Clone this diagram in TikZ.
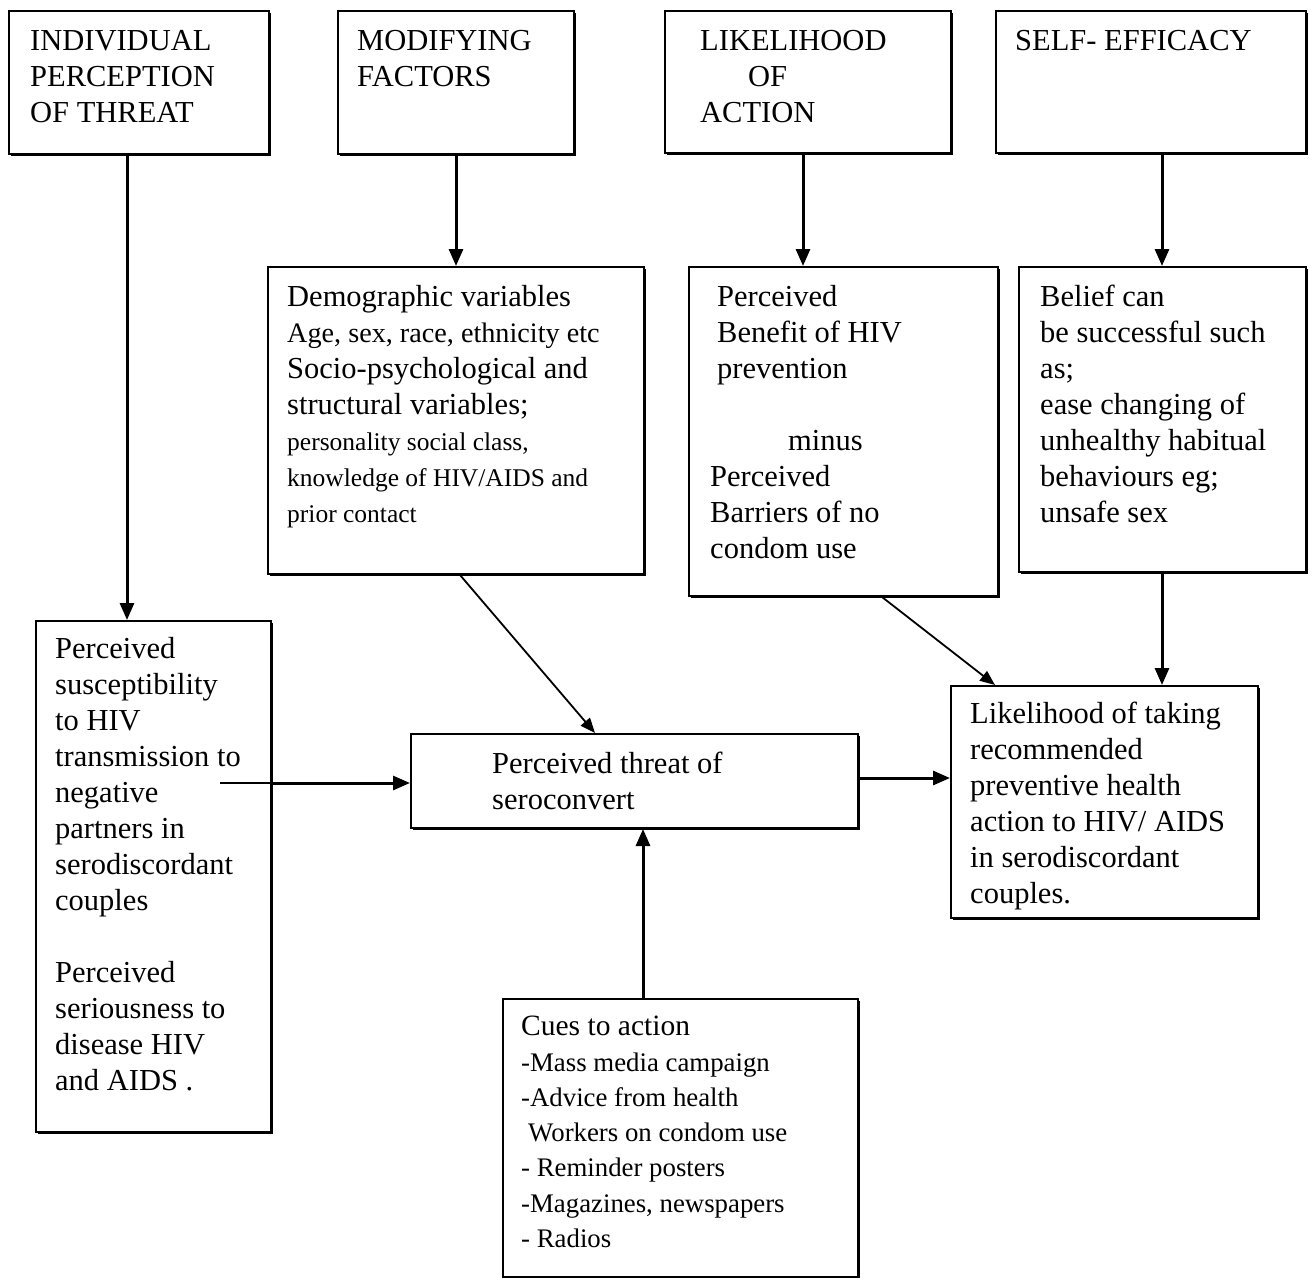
\documentclass[tikz,border=0pt]{standalone}
\usepackage{fontspec}
\setmainfont{Liberation Serif}
\usetikzlibrary{arrows.meta,shadows}
\newcommand{\fbig}{\fontsize{30.5}{36}\selectfont}
\newcommand{\fmid}{\fontsize{28.2}{36}\selectfont}
\newcommand{\fsml}{\fontsize{25.5}{36}\selectfont}
\newcommand{\fcue}{\fontsize{26.8}{36}\selectfont}
\begin{document}
\begin{tikzpicture}[x=1pt,y=-1pt,
  bx/.style={draw,line width=2pt,fill=white,inner sep=0pt,anchor=north west,
    drop shadow={shadow xshift=1.8pt,shadow yshift=-1.8pt,fill=black,opacity=1}},
  txt/.style={inner sep=0pt,anchor=north west,align=left,font=\fbig},
  arr/.style={line width=3pt,-{Triangle[length=17pt,width=14pt]}},
  darr/.style={line width=1.8pt,-{Triangle[length=15pt,width=12pt]}}
]
\useasboundingbox (0,0) rectangle (1313,1277);
% top row boxes
\node[bx,minimum width=260,minimum height=143] (b1) at (8,10) {};
\node[bx,minimum width=236,minimum height=143] (b2) at (337,10) {};
\node[bx,minimum width=286,minimum height=142] (b3) at (664,10) {};
\node[bx,minimum width=310,minimum height=142] (b4) at (995,10) {};
\node[txt] (t1) at (30,30) {INDIVIDUAL\\PERCEPTION\\OF THREAT};
\node[txt] (t2) at (357,30) {MODIFYING\\FACTORS};
\node[txt] (t3) at (700,30) {LIKELIHOOD\\\hspace*{48pt}OF\\ACTION};
\node[txt] (t4) at (1015,30) {SELF- EFFICACY};
% second row
\node[bx,minimum width=376,minimum height=307] (dem) at (267,266) {};
\node[bx,minimum width=309,minimum height=329] (ben) at (688,266) {};
\node[bx,minimum width=287,minimum height=305] (bel) at (1018,266) {};
\node[txt] (tdem) at (287,285) {Demographic variables\\
  \fmid Age, sex, race, ethnicity etc\\
  Socio-psychological and\\
  structural variables;\\
  \fsml personality social class,\\
  \fsml knowledge of HIV/AIDS and\\
  \fsml prior contact};
\node[txt] (tben) at (717,285) {Perceived\\Benefit of HIV\\prevention\\[36pt]%
  \hspace*{71pt}minus\\\hspace*{-7pt}Perceived\\\hspace*{-7pt}Barriers of no\\\hspace*{-7pt}condom use};
\node[txt] (tbel) at (1040,285) {Belief can\\be successful such\\as;\\ease changing of\\unhealthy habitual\\behaviours eg;\\unsafe sex};
% third row
\node[bx,minimum width=235,minimum height=511] (sus) at (35,620) {};
\node[bx,minimum width=447,minimum height=94] (thr) at (410,733) {};
\node[bx,minimum width=307,minimum height=232] (lik) at (950,685) {};
\node[txt] (tsus) at (55,637) {Perceived\\susceptibility\\to HIV\\transmission to\\negative\\partners in\\serodiscordant\\couples\\[36pt]Perceived\\seriousness to\\disease HIV\\and AIDS .};
\node[txt] (tthr) at (492,752) {Perceived threat of\\seroconvert};
\node[txt] (tlik) at (970,702) {Likelihood of taking\\recommended\\preventive health\\action to HIV/ AIDS\\in serodiscordant\\couples.};
% cues
\node[bx,minimum width=355,minimum height=278] (cue) at (502,998) {};
\node[txt,font=\fontsize{29.5}{35.3}\selectfont] (tcue) at (521,1016) {Cues to action\\
  \fcue -Mass media campaign\\
  \fcue -Advice from health\\
  \fcue \hspace*{7pt}Workers on condom use\\
  \fcue - Reminder posters\\
  \fcue -Magazines, newspapers\\
  \fcue - Radios};
% arrows
\draw[arr] (b1.south -| 127,0) -- (sus.north -| 127,0);
\draw[arr] (b2.south -| 456,0) -- (dem.north -| 456,0);
\draw[arr] (b3.south -| 803,0) -- (ben.north -| 803,0);
\draw[arr] (b4.south -| 1162,0) -- (bel.north -| 1162,0);
\draw[darr] (dem.south -| 460,0) -- (thr.north -| 595,0);
\draw[darr] (ben.south -| 882,0) -- (lik.north -| 995,0);
\draw[arr] (bel.south -| 1162,0) -- (lik.north -| 1162,0);
\coordinate (s) at (220,783);
\draw[line width=1.2pt] (s) -- (s -| sus.east);
\draw[arr] (s -| sus.east) -- (s -| thr.west);
\draw[arr] (thr.east |- 0,778) -- (lik.west |- 0,778);
\draw[arr] (cue.north -| 643,0) -- (thr.south -| 643,0);
\end{tikzpicture}
\end{document}
